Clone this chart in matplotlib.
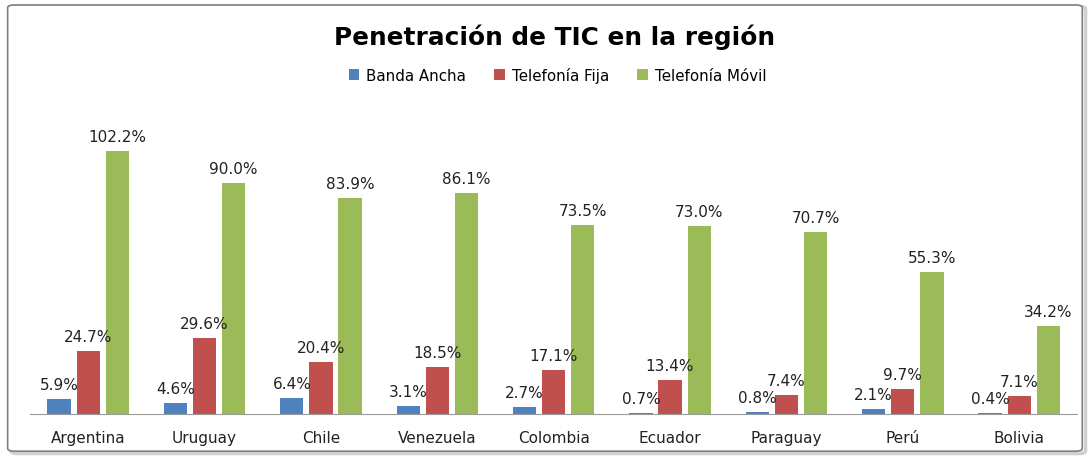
import numpy as np
import matplotlib
matplotlib.use("Agg")
import matplotlib.pyplot as plt
from matplotlib.patches import FancyBboxPatch

paises = ["Argentina", "Uruguay", "Chile", "Venezuela", "Colombia",
          "Ecuador", "Paraguay", "Perú", "Bolivia"]
banda_ancha = [5.9, 4.6, 6.4, 3.1, 2.7, 0.7, 0.8, 2.1, 0.4]
telefonia_fija = [24.7, 29.6, 20.4, 18.5, 17.1, 13.4, 7.4, 9.7, 7.1]
telefonia_movil = [102.2, 90.0, 83.9, 86.1, 73.5, 73.0, 70.7, 55.3, 34.2]
series = ["Banda Ancha", "Telefonía Fija", "Telefonía Móvil"]

BLUE, RED, GREEN = "#4F81BD", "#C0504D", "#9BBB59"
plt.rcParams["font.family"] = ["DejaVu Sans"]

fig = plt.figure(figsize=(10.91, 4.60), dpi=100)
# chart border with light shadow
fig.patches.append(FancyBboxPatch((0.010, 0.012), 0.985, 0.972, transform=fig.transFigure,
                                  boxstyle="round,pad=0,rounding_size=0.006",
                                  fc="none", ec="#d0d0d0", lw=2.5, zorder=0))
fig.patches.append(FancyBboxPatch((0.007, 0.017), 0.985, 0.970, transform=fig.transFigure,
                                  boxstyle="round,pad=0,rounding_size=0.006",
                                  fc="white", ec="#7f7f7f", lw=1.2, zorder=1))

ax = fig.add_axes([0.0275, 0.097, 0.96, 0.672])
ax.set_zorder(2)
ax.patch.set_alpha(0)
x = np.arange(len(paises))
w = 0.2
for off, vals, col, lab in [(-0.25, banda_ancha, BLUE, series[0]),
                            (0.0, telefonia_fija, RED, series[1]),
                            (0.25, telefonia_movil, GREEN, series[2])]:
    bars = ax.bar(x + off, vals, width=w, color=col, label=lab)
    for b, v in zip(bars, vals):
        ax.annotate(f"{v:.1f}%", (b.get_x() + b.get_width() / 2, v),
                    textcoords="offset points", xytext=(0, 5), ha="center", va="bottom",
                    fontsize=11, color="#222222")

ax.set_xlim(-0.5, len(paises) - 0.5)
ax.set_ylim(0, 120)
ax.set_yticks([])
for s in ["left", "right", "top"]:
    ax.spines[s].set_visible(False)
ax.spines["bottom"].set_color("#9a9a9a")
ax.set_xticks(x)
ax.set_xticklabels(paises, fontsize=11, color="#222222")
ax.tick_params(axis="x", length=0, pad=11)

fig.text(0.508, 0.92, "Penetración de TIC en la región", ha="center", va="center",
         fontsize=17.8, fontweight="bold", zorder=3)
fig.legend(loc="center", bbox_to_anchor=(0.511, 0.835), ncol=3, frameon=False,
           fontsize=10.8, handlelength=0.7, handleheight=0.7, handletextpad=0.45,
           columnspacing=1.9)

fig.savefig("out.png", dpi=100)
